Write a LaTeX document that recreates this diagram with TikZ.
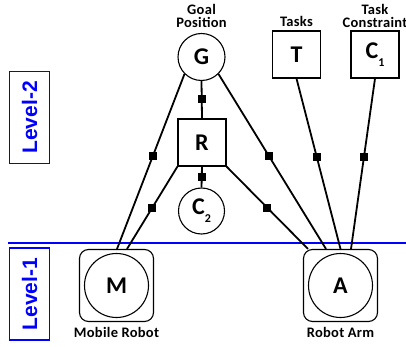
\documentclass[tikz,border=0pt]{standalone}
\usepackage{fontspec}
\setmainfont{Carlito}
\newfontfamily\lvlfont{Liberation Sans}
\newcommand{\sub}[1]{{\fontsize{12}{12}\selectfont\raisebox{-8pt}{#1}}}
\begin{document}
\begin{tikzpicture}[x=1pt,y=-1pt,
  lbl/.style={font=\bfseries\fontsize{14.5}{13}\selectfont\addfontfeature{LetterSpace=2},
    align=center, inner sep=0pt},
  var/.style={circle, draw, line width=1.1pt, minimum size=47pt, inner sep=0pt,
    font=\bfseries\fontsize{24}{24}\selectfont},
  fac/.style={rectangle, draw, line width=1.1pt, minimum width=48pt, minimum height=47pt,
    inner sep=0pt, font=\bfseries\fontsize{24}{24}\selectfont},
  robot/.style={rectangle, rounded corners=9pt, draw, line width=1.1pt,
    minimum width=74pt, minimum height=72pt},
  link/.style={line width=1.8pt},
  knot/.style={rectangle, fill=black, minimum size=8pt, inner sep=0pt},
  lvl/.style={rectangle, draw=blue, line width=1.5pt, text=blue, rotate=90,
    minimum width=92pt, minimum height=40pt, inner sep=0pt,
    font=\lvlfont\bfseries\fontsize{21}{21}\selectfont}
]
\useasboundingbox (0,0) rectangle (406,347);

% level boxes and separating line
\node[lvl] (L2) at (29.5,117.5) {Level-2};
\node[lvl] (L1) at (29.5,294) {Level-1};
\draw[blue, line width=1.3pt] (8,243) -- (406,243);

% upper level variables
\node[var] (G) at (201.5,57) {G};
\node[fac] (T) at (296.5,54.5) {T};
\node[fac] (C1) at (375,54.5) {C\sub{1}};
\node[fac] (R) at (202,142.5) {R};
\node[var, minimum size=46pt] (C2) at (201.5,211) {C\sub{2}};

\node[lbl] (gl) at (201.5,16) {Goal\\Position};
\node[lbl] (tl) at (296.5,21) {Tasks};
\node[lbl] (cl) at (375,16) {Task\\Constraint};

% lower level robots
\node[robot] (Mb) at (116.5,285.5) {};
\node[var, minimum size=64pt] (M) at (116.5,285.5) {M};
\node[robot] (Ab) at (340.5,285.5) {};
\node[var, minimum size=64pt] (A) at (340.5,285.5) {A};
\node[lbl] (ml) at (116.5,332) {Mobile Robot};
\node[lbl] (al) at (340.5,332) {Robot Arm};

% connections with factor markers
\draw[link] (G.south) -- node[knot, pos=0.47] (k1) {} (R.north);
\draw[link] (R.south) -- node[knot, pos=0.48] (k2) {} (C2.north);
\draw[link] (G.225) -- node[knot, pos=0.466] (k3) {} ([xshift=0.5pt]Mb.north);
\draw[link] (R.south west) -- node[knot, pos=0.5] (k4) {} ([xshift=10.5pt]Mb.north);
\draw[link] (G.315) -- node[knot, pos=0.47] (k5) {} ([xshift=-14.5pt]Ab.north);
\draw[link] (R.south east) -- node[knot, pos=0.5] (k6) {} ([xshift=-32.5pt]Ab.north);
\draw[link] (T.south) -- node[knot, pos=0.46] (k7) {} (Ab.north);
\draw[link] (C1.south) -- node[knot, pos=0.46] (k8) {} ([xshift=10.5pt]Ab.north);
\end{tikzpicture}
\end{document}
